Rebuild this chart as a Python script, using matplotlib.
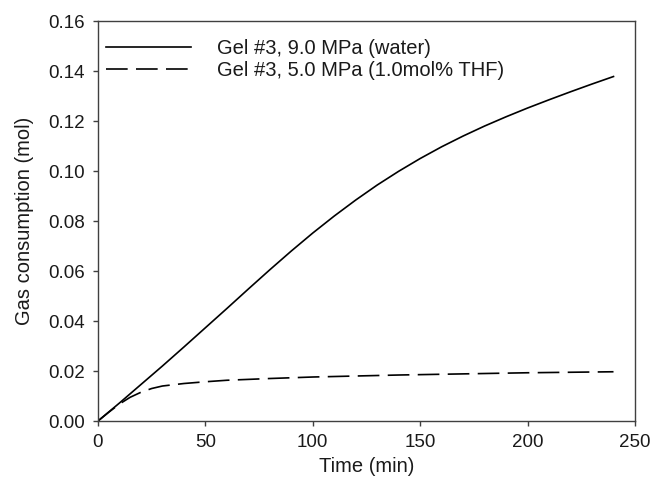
import matplotlib
matplotlib.use("Agg")
import matplotlib.pyplot as plt

plt.rcParams['font.family'] = ['Liberation Sans', 'DejaVu Sans']

# time (min) and gas consumption (mol)
t_water = [0, 10, 20, 30, 40, 50, 60, 70, 80, 90, 100, 110, 120, 130, 140,
           150, 160, 170, 180, 190, 200, 210, 220, 230, 240]
gas_water = [0, 0.0072, 0.0146, 0.0220, 0.0296, 0.0373, 0.0450, 0.0528,
             0.0605, 0.0680, 0.0752, 0.0820, 0.0884, 0.0944, 0.0999, 0.1050,
             0.1097, 0.1140, 0.1180, 0.1217, 0.1252, 0.1285, 0.1317, 0.1348,
             0.1378]

t_thf = [0, 5, 10, 15, 20, 25, 30, 40, 50, 60, 80, 100, 120, 140, 160, 180,
         200, 220, 240]
gas_thf = [0, 0.0035, 0.0068, 0.0095, 0.0115, 0.0130, 0.0140, 0.0150, 0.0157,
           0.0163, 0.0170, 0.0176, 0.0180, 0.0184, 0.0187, 0.0190, 0.0193,
           0.0195, 0.0197]

labels = ["Gel #3, 9.0 MPa (water)", "Gel #3, 5.0 MPa (1.0mol% THF)"]

fig = plt.figure(figsize=(6.51, 4.8), dpi=100)
ax = fig.add_axes([0.1505, 0.1229, 0.8249, 0.8333])

ax.plot(t_water, gas_water, color='black', lw=1.2, label=labels[0])
ax.plot(t_thf, gas_thf, color='black', lw=1.2, dashes=(13, 5), label=labels[1])

ax.set_xlim(0, 250)
ax.set_ylim(0, 0.16)
ax.set_xticks([0, 50, 100, 150, 200, 250])
ax.set_yticks([0, 0.02, 0.04, 0.06, 0.08, 0.10, 0.12, 0.14, 0.16])
ax.yaxis.set_major_formatter(matplotlib.ticker.FormatStrFormatter('%.2f'))

for s in ax.spines.values():
    s.set_color('#404040')
    s.set_linewidth(1.0)
ax.tick_params(direction='out', length=3.5, width=1.0, color='#404040',
               labelsize=13.5, labelcolor='#1a1a1a', pad=6)

ax.set_xlabel("Time (min)", fontsize=14.5, color='#1a1a1a', labelpad=4)
ax.set_ylabel("Gas consumption (mol)", fontsize=14.5, color='#1a1a1a', labelpad=10)

leg = ax.legend(loc='upper left', bbox_to_anchor=(0.0, 0.975), frameon=False,
                fontsize=14.5, handlelength=4.2, handletextpad=1.3,
                labelspacing=0.15, borderaxespad=0, borderpad=0.4)
for txt in leg.get_texts():
    txt.set_color('#1a1a1a')

fig.savefig("out.png", dpi=100)
